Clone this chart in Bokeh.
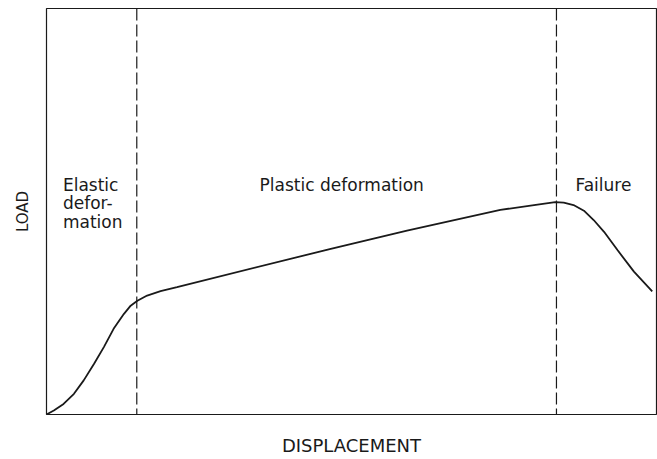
from bokeh.plotting import figure
from bokeh.models import Range1d, Label, Span, FixedTicker
from bokeh.embed import file_html
from bokeh.resources import INLINE

# Load-displacement curve (arbitrary units, 0..10 on both axes)
displacement = [0.0, 0.12, 0.28, 0.45, 0.61, 0.78, 0.94, 1.10, 1.27, 1.38, 1.49,
                1.65, 1.87, 2.14, 4.66, 5.91, 7.44, 8.05, 8.34, 8.48, 8.64, 8.81,
                8.97, 9.14, 9.36, 9.63, 9.93]
load = [0.0, 0.10, 0.26, 0.51, 0.84, 1.25, 1.66, 2.11, 2.48, 2.68, 2.80,
        2.93, 3.04, 3.14, 4.08, 4.53, 5.04, 5.17, 5.23, 5.22, 5.16, 5.02,
        4.79, 4.50, 4.05, 3.52, 3.03]

# Region boundaries (displacement)
boundaries = [1.48, 8.36]
region_labels = ["Plastic deformation", "Failure"]
elastic_lines = ["Elastic", "defor-", "mation"]
x_title = "DISPLACEMENT"
y_title = "LOAD"

FONT = "DejaVu Sans"
INK = "#1a1a1a"

p = figure(width=657, height=459, output_backend="svg", toolbar_location=None,
           x_range=Range1d(0, 10), y_range=Range1d(0, 10),
           min_border_left=46, min_border_right=1, min_border_top=8, min_border_bottom=45)

p.grid.visible = False
p.background_fill_color = "white"
p.border_fill_color = "white"
p.outline_line_color = INK
p.outline_line_width = 1.2

for ax in (p.xaxis[0], p.yaxis[0]):
    ax.ticker = FixedTicker(ticks=[])
    ax.axis_line_color = None
    ax.major_tick_line_color = None
    ax.minor_tick_line_color = None
    ax.major_tick_out = 0
    ax.major_tick_in = 0
    ax.minor_tick_out = 0
    ax.major_label_standoff = 0
    ax.axis_label_text_font = FONT
    ax.axis_label_text_font_style = "normal"
    ax.axis_label_text_color = INK

p.yaxis.axis_label = y_title
p.yaxis.axis_label_text_font_size = "15px"
p.yaxis.axis_label_standoff = 15

p.xaxis.axis_label = x_title
p.xaxis.axis_label_text_font_size = "18px"
p.xaxis.axis_label_standoff = 20

for b in boundaries:
    p.add_layout(Span(location=b, dimension="height", line_color=INK,
                      line_width=1.2, line_dash="12 4"))

p.line(displacement, load, line_color=INK, line_width=1.8)

ys = [5.66, 5.20, 4.74]
for txt, yy in zip(elastic_lines, ys):
    p.add_layout(Label(x=0.27, y=yy, text=txt, text_font=FONT, text_font_size="17px",
                       text_color=INK, text_baseline="middle", text_align="left"))

p.add_layout(Label(x=4.84, y=5.66, text=region_labels[0], text_font=FONT,
                   text_font_size="17px", text_color=INK, text_baseline="middle",
                   text_align="center"))
p.add_layout(Label(x=9.13, y=5.66, text=region_labels[1], text_font=FONT,
                   text_font_size="17px", text_color=INK, text_baseline="middle",
                   text_align="center"))

open("out.html", "w").write(file_html(p, INLINE))
